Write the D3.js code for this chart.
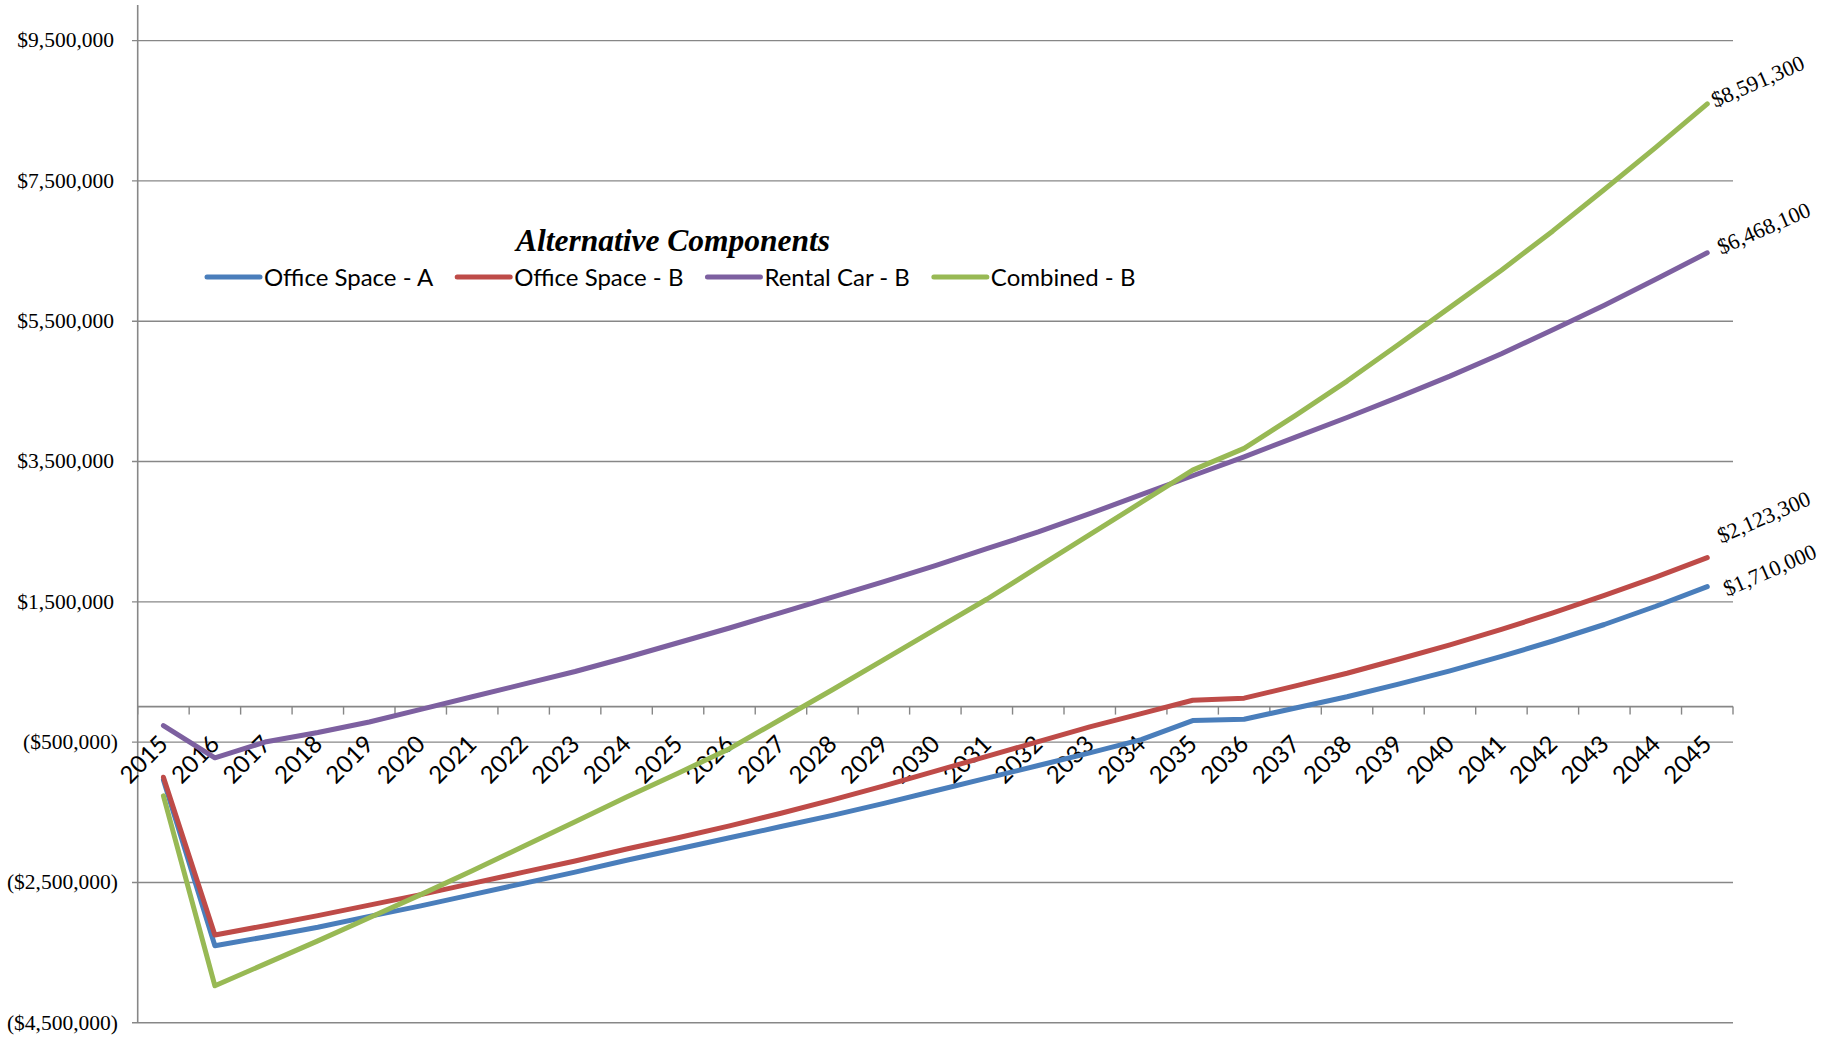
<!DOCTYPE html>
<html>
<head>
<meta charset="utf-8">
<script src="https://cdn.jsdelivr.net/npm/d3@7"></script>
<style>
  html, body { margin: 0; padding: 0; background: #ffffff; }
  svg { display: block; }
</style>
</head>
<body>
<svg id="chart" width="1839" height="1040"></svg>
<script>
const years = ["2015","2016","2017","2018","2019","2020","2021","2022","2023","2024","2025",
  "2026","2027","2028","2029","2030","2031","2032","2033","2034","2035",
  "2036","2037","2038","2039","2040","2041","2042","2043","2044","2045"];

const officeSpaceA = [-1045000,-3410000,-3280000,-3145000,-2990000,-2840000,-2680000,-2520000,-2360000,-2190000,-2030000,
  -1870000,-1710000,-1550000,-1380000,-1200000,-1020000,-840000,-660000,-470000,-200000,
  -180000,-20000,140000,320000,510000,715000,935000,1170000,1430000,1710000];

const officeSpaceB = [-1007000,-3255000,-3120000,-2980000,-2830000,-2680000,-2520000,-2360000,-2200000,-2030000,-1870000,
  -1700000,-1520000,-1330000,-1130000,-920000,-710000,-500000,-290000,-100000,90000,
  120000,295000,475000,675000,880000,1100000,1335000,1585000,1845000,2123300];

const rentalCarB = [-270000,-730000,-500000,-370000,-220000,-40000,140000,320000,500000,700000,910000,
  1120000,1340000,1560000,1780000,2010000,2250000,2490000,2750000,3020000,3290000,
  3560000,3840000,4120000,4410000,4710000,5030000,5370000,5720000,6090000,6468100];

const combinedB = [-1273000,-3980000,-3660000,-3340000,-3010000,-2680000,-2340000,-1990000,-1640000,-1290000,-950000,
  -600000,-180000,240000,670000,1100000,1530000,1990000,2450000,2910000,3370000,
  3680000,4150000,4640000,5160000,5690000,6220000,6780000,7370000,7970000,8591300];

const seriesNames = ["Office Space - A", "Office Space - B", "Rental Car - B", "Combined - B"];
const seriesValues = [officeSpaceA, officeSpaceB, rentalCarB, combinedB];
const seriesColors = ["#4a7ebb", "#be4b48", "#7d60a0", "#98b954"];

const yTicks = [-4500000, -2500000, -500000, 1500000, 3500000, 5500000, 7500000, 9500000];
const yMin = -4500000, yMax = 10000000;
const legendTitle = "Alternative Components";
const endLabels = ["$1,710,000", "$2,123,300", "$6,468,100", "$8,591,300"];

// ---- layout ----
const svg = d3.select("#chart");
svg.append("rect").attr("width", 1839).attr("height", 1040).attr("fill", "#ffffff");

const plotLeft = 137.7, plotRight = 1733, plotTop = 5, plotBottom = 1022.3;
const gridColor = "#878787";

const x = d3.scaleBand().domain(years).range([plotLeft, plotRight]).paddingInner(0).paddingOuter(0);
const y = d3.scaleLinear().domain([yMin, yMax]).range([plotBottom, plotTop]);
const cx = d => x(d) + x.bandwidth() / 2;

const fmt = d3.format(",");
const yLabel = v => v < 0 ? "($" + fmt(-v) + ")" : "$" + fmt(v);

// y axis with gridlines
const yAxis = d3.axisLeft(y).tickValues(yTicks).tickSizeInner(-(plotRight - 132)).tickSizeOuter(0)
  .tickPadding(14).tickFormat(yLabel);
const gy = svg.append("g").attr("transform", "translate(132,0)").call(yAxis);
gy.select(".domain").remove();
gy.selectAll(".tick line").attr("stroke", gridColor).attr("stroke-width", 1.4);
gy.selectAll(".tick text")
  .attr("font-family", "'Liberation Serif', 'Times New Roman', serif")
  .attr("font-size", 21.5).attr("fill", "#000")
  .attr("dx", d => d < 0 ? 0 : -4);

// vertical axis line
svg.append("line").attr("x1", plotLeft).attr("x2", plotLeft).attr("y1", y(yMax)).attr("y2", y(yMin))
  .attr("stroke", gridColor).attr("stroke-width", 1.6);

// category axis at zero
const y0 = y(0);
svg.append("line").attr("x1", plotLeft).attr("x2", plotRight).attr("y1", y0).attr("y2", y0)
  .attr("stroke", gridColor).attr("stroke-width", 1.6);
const boundaries = years.map(d => x(d)).concat([plotRight]);
svg.append("g").selectAll("line").data(boundaries).join("line")
  .attr("x1", d => d).attr("x2", d => d).attr("y1", y0).attr("y2", y0 + 8)
  .attr("stroke", gridColor).attr("stroke-width", 1.4);

// category labels
svg.append("g").selectAll("text").data(years).join("text")
  .attr("transform", d => `translate(${cx(d)},${y0 + 33}) rotate(-45)`)
  .attr("text-anchor", "end").attr("dy", "0.35em")
  .attr("font-family", "Lato, 'Open Sans', sans-serif").attr("font-size", 24).attr("fill", "#000")
  .text(d => d);

// lines
const line = d3.line().x((d, i) => cx(years[i])).y(d => y(d));
svg.append("g").selectAll("path").data(seriesValues).join("path")
  .attr("d", d => line(d)).attr("fill", "none")
  .attr("stroke", (d, i) => seriesColors[i]).attr("stroke-width", 5)
  .attr("stroke-linejoin", "round").attr("stroke-linecap", "round");

// end labels
const labelOffsets = [[20, 10], [14, -14], [14, 2], [8, 4]];
const last = years[years.length - 1];
svg.append("g").selectAll("text").data(seriesValues).join("text")
  .attr("transform", (d, i) => `translate(${cx(last) + labelOffsets[i][0]},${y(d[d.length - 1]) + labelOffsets[i][1]}) rotate(-23.5)`)
  .attr("font-family", "'Liberation Serif', 'Times New Roman', serif")
  .attr("font-size", 22).attr("fill", "#000")
  .text((d, i) => endLabels[i]);

// legend
svg.append("text").attr("x", 673).attr("y", 251).attr("text-anchor", "middle")
  .attr("font-family", "'Liberation Serif', 'Times New Roman', serif")
  .attr("font-size", 31.5).attr("font-weight", "bold").attr("font-style", "italic").attr("fill", "#000")
  .text(legendTitle);

const legendY = 277;
let lx = 207;
seriesNames.forEach((name, i) => {
  svg.append("line").attr("x1", lx).attr("x2", lx + 53).attr("y1", legendY).attr("y2", legendY)
    .attr("stroke", seriesColors[i]).attr("stroke-width", 5).attr("stroke-linecap", "round");
  const t = svg.append("text").attr("x", lx + 57).attr("y", legendY).attr("dy", "0.36em")
    .attr("font-family", "Lato, 'Open Sans', sans-serif").attr("font-size", 24).attr("fill", "#000")
    .text(name);
  const w = t.node().getComputedTextLength();
  lx = lx + 57 + w + 24;
});
</script>
</body>
</html>
